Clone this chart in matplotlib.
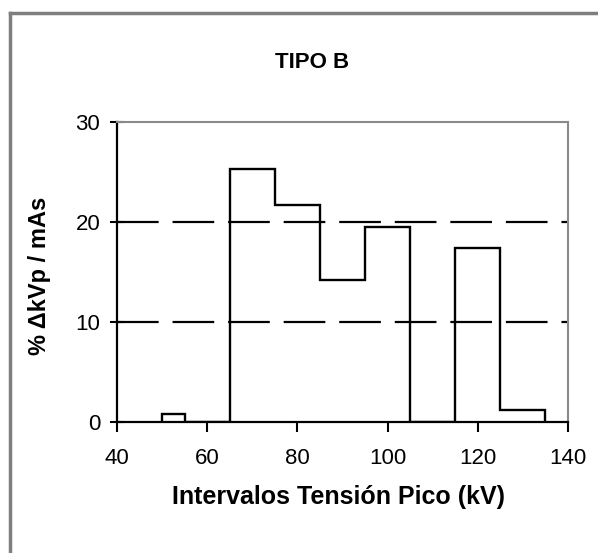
import matplotlib
matplotlib.use("Agg")
import matplotlib.pyplot as plt
from matplotlib.lines import Line2D

plt.rcParams['font.family'] = ['Liberation Sans', 'DejaVu Sans']
plt.rcParams['lines.scale_dashes'] = False

# Data
bin_edges = [50, 55, 65, 75, 85, 95, 105, 115, 125, 135]
values = [0.8, 0, 25.3, 21.7, 14.2, 19.5, 0, 17.4, 1.2]
x_ticks = [40, 60, 80, 100, 120, 140]
y_ticks = [0, 10, 20, 30]
grid_levels = [10, 20]
title = "TIPO B"
xlabel = "Intervalos Tensión Pico (kV)"
ylabel = "% ΔkVp / mAs"

W, H = 598, 553
fig = plt.figure(figsize=(W / 100, H / 100), dpi=100)
fig.patch.set_facecolor('white')

L, R, T, B = 117, 568, 122, 422
ax = fig.add_axes([L / W, 1 - B / H, (R - L) / W, (B - T) / H])

for g in grid_levels:
    ax.axhline(g, color='black', lw=1.6, dashes=(30, 10), zorder=1)

ax.stairs(values, bin_edges, baseline=0, fill=False, color='black', lw=1.7, zorder=3)

ax.set_xlim(40, 140)
ax.set_ylim(0, 30)
ax.set_xticks(x_ticks)
ax.set_yticks(y_ticks)

for s in ['left', 'bottom']:
    ax.spines[s].set_color('black')
    ax.spines[s].set_linewidth(1.6)
for s in ['top', 'right']:
    ax.spines[s].set_color('#8a8a8a')
    ax.spines[s].set_linewidth(1.5)

ax.tick_params(axis='x', direction='out', length=7, width=1.5, pad=12, labelsize=16)
ax.tick_params(axis='y', direction='inout', length=10, width=1.5, pad=7, labelsize=16)

fig.text(312 / W, 1 - 62 / H, title, ha='center', va='center', fontsize=16, fontweight='bold')
fig.text(338 / W, 1 - 497 / H, xlabel, ha='center', va='center', fontsize=18, fontweight='bold')
fig.text(40 / W, 1 - 276 / H, ylabel, ha='center', va='center', fontsize=17, fontweight='bold', rotation=90)

# outer border (top and left)
fig.add_artist(Line2D([10 / W, 1.0], [1 - 13 / H, 1 - 13 / H], transform=fig.transFigure, color='#7f7f7f', lw=2.5))
fig.add_artist(Line2D([10 / W, 10 / W], [0.0, 1 - 13 / H], transform=fig.transFigure, color='#7f7f7f', lw=2.5))

fig.savefig('out.png', dpi=100)
